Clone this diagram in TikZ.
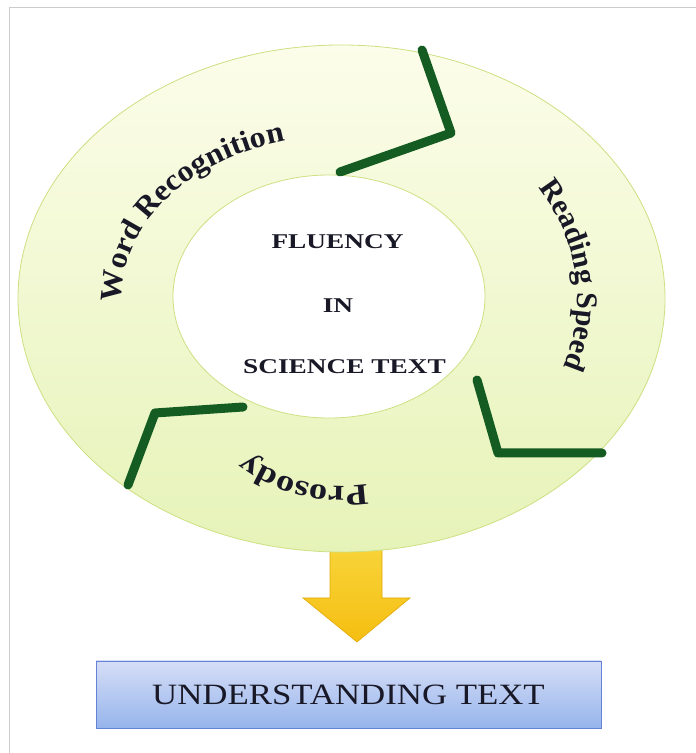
\documentclass[tikz,border=0pt]{standalone}
\usepackage{fontspec}
\setmainfont{Liberation Serif}
\newfontfamily\wordfont[FakeStretch=1.06]{Liberation Serif Bold}
\newfontfamily\speedfont[FakeStretch=1.0]{Liberation Serif Bold}
\newfontfamily\prosfont[FakeStretch=1.22]{Liberation Serif Bold}
\newfontfamily\centerfont[FakeStretch=1.3]{Liberation Serif Bold}
\newfontfamily\boxfont[FakeStretch=1.18]{Liberation Serif}
\usetikzlibrary{calc,decorations.text}
\definecolor{ringtop}{RGB}{252,253,234}
\definecolor{ringbot}{RGB}{230,243,184}
\definecolor{ringedge}{RGB}{205,224,130}
\definecolor{marker}{RGB}{20,92,34}
\definecolor{arrowtop}{RGB}{248,214,60}
\definecolor{arrowbot}{RGB}{245,190,18}
\definecolor{arrowedge}{RGB}{226,170,10}
\definecolor{boxtop}{RGB}{214,222,246}
\definecolor{boxbot}{RGB}{150,180,236}
\definecolor{boxedge}{RGB}{100,130,214}
\definecolor{ink}{RGB}{24,24,38}
\tikzset{
  markerline/.style={draw=marker, line width=9pt, line cap=round, line join=round},
  ringlabel/.style={decorate, decoration={text along path, text align=center, text color=ink, text={#1}}},
  centertext/.style={text=ink, font=\centerfont\fontsize{21}{21}\selectfont, inner sep=0pt},
}
\begin{document}
\begin{tikzpicture}[x=1pt,y=1pt]
\useasboundingbox (0,0) rectangle (696,753);
\fill[white] (0,0) rectangle (696,753);
% frame lines
\draw[black!20, line width=1pt] (9,0) -- (9,745) -- (696,745);
% coordinates
\coordinate (O) at (341.5,454.5);
\coordinate (I) at (329,456.5);
% yellow arrow (drawn first, top hidden by ring)
\shade[top color=arrowtop, bottom color=arrowbot, draw=arrowedge, line width=0.6pt]
  (330,215) -- (382,215) -- (382,155) -- (410,155) -- (357,111) -- (303,155) -- (330,155) -- cycle;
% ring
\path[even odd rule, top color=ringtop, bottom color=ringbot]
  (O) ellipse[x radius=323.5, y radius=253.5] (I) ellipse[x radius=156, y radius=121.5];
\draw[ringedge, line width=0.8pt] (O) ellipse[x radius=323.5, y radius=253.5];
\draw[ringedge, line width=0.8pt, fill=white] (I) ellipse[x radius=156, y radius=121.5];
% green marker strokes
\draw[markerline] (422,703) -- (451,620) -- (340,581);
\draw[markerline] (477,373) -- (498,300) -- (602,300);
\draw[markerline] (128,268) -- (155,340) -- (243,346);
% ring labels
\path[ringlabel={|\wordfont\fontsize{30}{30}\selectfont|Word Recognition}]
  ($(O)+(206:220 and 163)$) arc[start angle=206, end angle=86, x radius=220, y radius=163];
\path[ringlabel={|\speedfont\fontsize{30}{30}\selectfont|Reading Speed}]
  ($(O)+(50:236 and 200)$) arc[start angle=50, end angle=-37, x radius=236, y radius=200];
\path[ringlabel={|\prosfont\fontsize{30}{30}\selectfont|Prosody}]
  ($(O)+(-42:170 and 188)$) arc[start angle=-42, end angle=-162, x radius=170, y radius=188];
% centre text
\node[centertext] (fluency) at (337.5,511.5) {FLUENCY};
\node[centertext] (in) at (338,447) {IN};
\node[centertext] (science) at (344.5,386.5) {SCIENCE TEXT};
% result box
\node[draw=boxedge, line width=0.8pt, top color=boxtop, bottom color=boxbot,
      minimum width=505pt, minimum height=67pt, inner sep=0pt,
      text=ink, font=\boxfont\fontsize{29.5}{29.5}\selectfont] (box) at (348.5,58.5) {UNDERSTANDING TEXT};
\end{tikzpicture}
\end{document}
